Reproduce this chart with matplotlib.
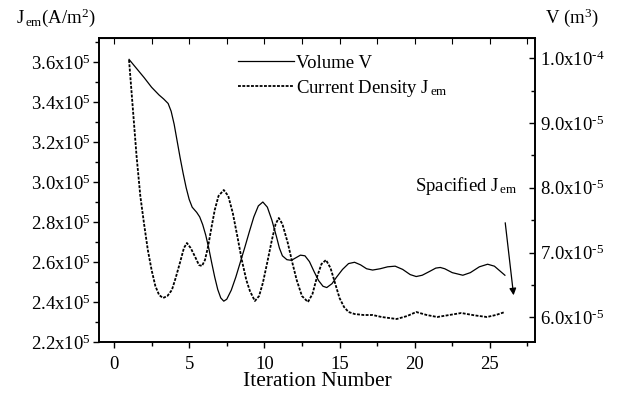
import matplotlib
matplotlib.use('Agg')
import matplotlib.pyplot as plt
import numpy as np
from matplotlib.ticker import MultipleLocator, FixedLocator, FixedFormatter

# current density J_em (x1e5 A/m^2), dashed, left axis
iterJ = [1.0, 1.25, 1.5, 1.75, 2.0, 2.25, 2.5, 2.75, 3.0, 3.26, 3.55, 3.85, 4.1, 4.4, 4.65,
         4.85, 5.1, 5.4, 5.65, 5.85, 6.05, 6.25, 6.5, 6.7, 6.95, 7.3, 7.6, 7.9, 8.2, 8.5,
         8.8, 9.04, 9.37, 9.65, 9.9, 10.2, 10.5, 10.75, 10.96, 11.2, 11.56, 11.85, 12.15,
         12.5, 12.9, 13.2, 13.5, 13.8, 14.1, 14.4, 14.7, 15.0, 15.3, 15.6, 16.0, 16.6,
         17.2, 17.8, 18.3, 18.8, 19.5, 20.1, 20.8, 21.5, 22.3, 23.1, 24.0, 24.8, 25.4, 26.0]
J = [3.61, 3.37, 3.13, 2.93, 2.79, 2.66, 2.56, 2.48, 2.435, 2.42, 2.43, 2.46, 2.52, 2.60, 2.67,
     2.695, 2.67, 2.625, 2.585, 2.58, 2.61, 2.675, 2.78, 2.86, 2.93, 2.96, 2.93, 2.845, 2.73, 2.61,
     2.51, 2.455, 2.405, 2.43, 2.495, 2.60, 2.71, 2.79, 2.82, 2.79, 2.695, 2.60, 2.51,
     2.43, 2.40, 2.44, 2.525, 2.59, 2.61, 2.57, 2.495, 2.42, 2.375, 2.35, 2.34, 2.335,
     2.335, 2.325, 2.32, 2.315, 2.33, 2.35, 2.335, 2.325, 2.335, 2.345, 2.333, 2.325, 2.335, 2.35]

# volume V (x1e-5 m^3), solid, right axis
iterV = [1.0, 1.5, 2.0, 2.5, 3.0, 3.3, 3.6, 3.8, 4.0, 4.2, 4.4, 4.6, 4.8, 5.0, 5.2, 5.5,
         5.7, 5.9, 6.1, 6.3, 6.5, 6.7, 6.9, 7.1, 7.3, 7.5, 7.8, 8.1, 8.4, 8.7, 9.0, 9.3,
         9.6, 9.9, 10.2, 10.5, 10.8, 11.0, 11.2, 11.5, 11.8, 12.1, 12.4, 12.7, 13.0, 13.3,
         13.6, 13.9, 14.15, 14.5, 14.8, 15.2, 15.6, 16.0, 16.4, 16.8, 17.2, 17.7, 18.2,
         18.7, 19.2, 19.7, 20.1, 20.5, 21.0, 21.4, 21.7, 22.0, 22.5, 23.2, 23.7, 24.3,
         24.85, 25.3, 25.7, 26.0]
V = [9.98, 9.84, 9.70, 9.55, 9.43, 9.37, 9.30, 9.18, 8.98, 8.72, 8.46, 8.22, 8.00, 7.82, 7.70, 7.62,
     7.55, 7.43, 7.27, 7.07, 6.84, 6.62, 6.43, 6.30, 6.25, 6.28, 6.42, 6.62, 6.85, 7.08, 7.32, 7.55,
     7.72, 7.78, 7.70, 7.50, 7.25, 7.07, 6.95, 6.89, 6.88, 6.92, 6.96, 6.95, 6.86, 6.71,
     6.57, 6.48, 6.46, 6.52, 6.62, 6.74, 6.83, 6.85, 6.81, 6.75, 6.73, 6.75, 6.78,
     6.79, 6.74, 6.66, 6.63, 6.65, 6.71, 6.76, 6.77, 6.75, 6.69, 6.65, 6.69, 6.78,
     6.82, 6.79, 6.71, 6.65]

jTicks = [2.2, 2.4, 2.6, 2.8, 3.0, 3.2, 3.4, 3.6]
vTicks = [6.0, 7.0, 8.0, 9.0, 10.0]
jLabels = [r'%.1fx10$^{5}$' % t for t in jTicks]
vLabels = ['6.0x10$^{\u20105}$', '7.0x10$^{\u20105}$', '8.0x10$^{\u20105}$',
           '9.0x10$^{\u20105}$', '1.0x10$^{\u20104}$']

plt.rcParams['font.family'] = ['Liberation Serif', 'DejaVu Serif']
plt.rcParams['mathtext.fontset'] = 'custom'
plt.rcParams['mathtext.rm'] = 'Liberation Serif'
plt.rcParams['mathtext.it'] = 'Liberation Serif:italic'

fig = plt.figure(figsize=(6.41, 3.98), dpi=100)
ax = fig.add_axes([0.1544, 0.1407, 0.6802, 0.7638])
ax2 = ax.twinx()

lnJ, = ax.plot(iterJ, J, color='black', lw=1.3, linestyle=(0, (1.6, 0.8)),
               label=r'Current Density J$_{\,\mathrm{em}}$')
lnV, = ax2.plot(iterV, V, color='black', lw=0.9, label='Volume V')

ax.set_xlim(-1, 28)
ax.set_ylim(2.2, 3.72)
ax2.set_ylim(5.62, 10.31)

ax.xaxis.set_major_locator(MultipleLocator(5))
ax.xaxis.set_minor_locator(MultipleLocator(2.5))
ax.yaxis.set_major_locator(FixedLocator(jTicks))
ax.yaxis.set_major_formatter(FixedFormatter(jLabels))
ax.yaxis.set_minor_locator(MultipleLocator(0.1))
ax2.yaxis.set_major_locator(FixedLocator(vTicks))
ax2.yaxis.set_major_formatter(FixedFormatter(vLabels))
ax2.yaxis.set_minor_locator(MultipleLocator(0.5))

ax.tick_params(axis='both', which='major', labelsize=13.5, direction='out', length=4, width=1)
ax.tick_params(axis='both', which='minor', direction='out', length=3, width=1)
ax.tick_params(axis='x', pad=6)
ax.tick_params(axis='y', pad=2)
ax2.tick_params(axis='y', which='major', labelsize=13.5, direction='in', length=4, width=1)
ax2.tick_params(axis='y', which='minor', direction='in', length=3, width=1)

top = ax.secondary_xaxis('top')
top.xaxis.set_major_locator(MultipleLocator(2.5))
top.tick_params(direction='in', length=4, labeltop=False)

for a in (ax, ax2):
    for s in a.spines.values():
        s.set_linewidth(1.2)

ax.set_xlabel('Iteration Number', fontsize=15.5, labelpad=-1)

fig.text(0.025, 0.955, r'J$_{\,\mathrm{em}}$(A/m$^{2}$)', fontsize=13.5, va='center')
fig.text(0.85, 0.955, r'V (m$^{3}$)', fontsize=13.5, va='center')

ax.legend(handles=[lnV, lnJ], loc='upper left', bbox_to_anchor=(0.28, 1.0), frameon=False,
          fontsize=13.5, handlelength=3.0, handletextpad=0.1, labelspacing=0.3)

ax.annotate('', xy=(26.6, 2.42), xytext=(26.0, 2.81),
            arrowprops=dict(arrowstyle='-|>', color='black', lw=0.9, mutation_scale=10))
ax.text(20.0, 2.98, r'Spacified J$_{\,\mathrm{em}}$', fontsize=13.5, va='center')

fig.savefig('out.png', dpi=100)
